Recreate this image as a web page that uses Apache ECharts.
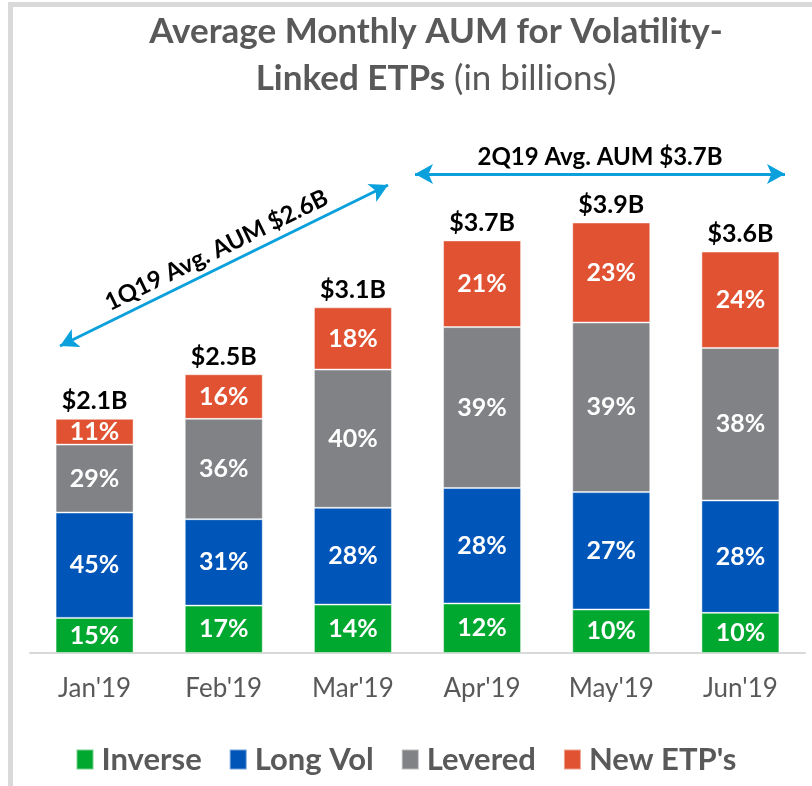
<!DOCTYPE html>
<html><head><meta charset="utf-8">
<script src="https://cdn.jsdelivr.net/npm/echarts@6/dist/echarts.min.js"></script>
<style>html,body{margin:0;padding:0;background:#fff}#c{width:812px;height:786px}</style>
</head><body><div id="c"></div>
<script>
const categories = ["Jan'19","Feb'19","Mar'19","Apr'19","May'19","Jun'19"];
const totals = [2.1, 2.5, 3.1, 3.7, 3.9, 3.6];
const inversePct = [15, 17, 14, 12, 10, 10];
const longVolPct = [45, 31, 28, 28, 27, 28];
const leveredPct = [29, 36, 40, 39, 39, 38];
const newEtpPct  = [11, 16, 18, 21, 23, 24];
const seriesNames = ["Inverse", "Long Vol", "Levered", "New ETP's"];
const quarterLabels = ["1Q19 Avg. AUM $2.6B", "2Q19 Avg. AUM $3.7B"];

const FONT = 'Lato';
const colors = ['#00a82f', '#0055b8', '#808285', '#e05232'];
const pcts = [inversePct, longVolPct, leveredPct, newEtpPct];

const chart = echarts.init(document.getElementById('c'));
const segSeries = seriesNames.map((name, i) => ({
  name, type: 'bar', stack: 'aum', barWidth: 78,
  itemStyle: { color: colors[i], borderColor: 'rgba(255,255,255,0.45)', borderWidth: 1 },
  label: { show: true, position: 'inside', color: '#fff', fontFamily: FONT, fontWeight: 'bold', fontSize: 25,
    formatter: p => pcts[i][p.dataIndex] + '%' },
  data: totals.map((t, k) => t * pcts[i][k] / 100)
}));

const totalSeries = {
  name: 'total', type: 'bar', stack: 'aum', barWidth: 78,
  itemStyle: { color: 'transparent' },
  label: { show: true, position: 'top', distance: 5, color: '#000', fontFamily: FONT, fontWeight: 'bold', fontSize: 25,
    formatter: p => '$' + totals[p.dataIndex].toFixed(1) + 'B' },
  data: totals.map(() => 0),
  markLine: {
    silent: true, symbol: ['arrow', 'arrow'], symbolSize: [15, 18],
    lineStyle: { color: '#0aa0dc', width: 3, type: 'solid' },
    label: { show: true, position: 'middle', color: '#000', fontFamily: FONT, fontWeight: 'bold', fontSize: 24, distance: 5 },
    data: [
      [{ x: 60, y: 346, label: { formatter: quarterLabels[0] } }, { x: 388, y: 185 }],
      [{ x: 415, y: 174, label: { formatter: quarterLabels[1] } }, { x: 785, y: 174 }]
    ]
  }
};

chart.setOption({
  animation: false,
  grid: { left: 30, right: 7, top: 95.5, height: 557.5 },
  xAxis: { type: 'category', data: categories,
    axisLine: { lineStyle: { color: '#d9d9d9', width: 2 } }, axisTick: { show: false },
    axisLabel: { color: '#595959', fontFamily: FONT, fontSize: 26, margin: 23 } },
  yAxis: { type: 'value', min: 0, max: 5, show: false, splitLine: { show: false } },
  legend: { data: seriesNames, top: 739, left: 'center', itemWidth: 17, itemHeight: 20, itemGap: 27,
    icon: 'rect', textStyle: { color: '#595959', fontFamily: FONT, fontWeight: 'bold', fontSize: 31, padding: [0, 0, 0, 3] } },
  graphic: [
    { type: 'rect', shape: { x: 8, y: 2, width: 804, height: 5 }, style: { fill: '#d9d9d9' } },
    { type: 'rect', shape: { x: 8, y: 2, width: 5, height: 784 }, style: { fill: '#d9d9d9' } },
    { type: 'text', x: 436, y: 14, style: { text: 'Average Monthly AUM for Volatility-', textAlign: 'center',
        fill: '#595959', font: 'bold 35px ' + FONT } },
    { type: 'text', x: 436, y: 61, style: { text: '{b|Linked ETPs}{r| (in billions)}', textAlign: 'center',
        rich: { b: { fill: '#595959', fontFamily: FONT, fontWeight: 'bold', fontSize: 35 },
                r: { fill: '#595959', fontFamily: FONT, fontWeight: 'normal', fontSize: 35 } } } }
  ],
  series: [...segSeries, totalSeries]
});
</script></body></html>
